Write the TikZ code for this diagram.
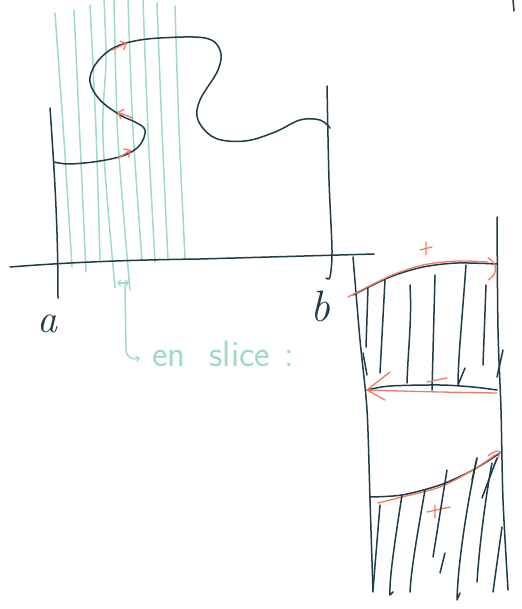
\documentclass[tikz,border=0pt]{standalone}
\usetikzlibrary{arrows.meta}
\definecolor{ink}{HTML}{1F3B47}
\definecolor{tealink}{HTML}{9ED9C9}
\definecolor{redink}{HTML}{F07B63}
\begin{document}
\begin{tikzpicture}[x=1pt,y=-1pt,line cap=round,line join=round,
  inkline/.style={draw=ink,line width=1.5pt},
  tealline/.style={draw=tealink,line width=1.5pt},
  redline/.style={draw=redink,line width=1.3pt},
  chevtip/.style={-{Straight Barb[length=5pt,width=10pt,line width=1.3pt]}},
  smallchev/.style={-{Straight Barb[length=3pt,width=6pt,line width=1.2pt]}},
  dblchev/.style={{Straight Barb[length=3pt,width=6pt,line width=1.2pt]}-{Straight Barb[length=3pt,width=6pt,line width=1.2pt]}},
  handtext/.style={font=\sffamily\fontsize{37}{37}\selectfont,inner sep=0pt},
  labeltext/.style={font=\itshape\fontsize{#1}{#1}\selectfont,text=ink,inner sep=0pt}]
\useasboundingbox (0,0) rectangle (521,609);
% ---------- teal slices ----------
\draw[tealline] plot[smooth] coordinates {(55,13) (64,140) (72,267)};
\draw[tealline] plot[smooth] coordinates {(74,10) (80,140) (86,272)};
\draw[tealline] plot[smooth] coordinates {(90,5) (96,130) (100,260)};
\draw[tealline] plot[smooth] coordinates {(104,0) (106,60) (103,140) (115,288)};
\draw[tealline] plot[smooth] coordinates {(114,0) (118,140) (130,290)};
\draw[tealline] plot[smooth] coordinates {(128,0) (133,130) (142,260)};
\draw[tealline] plot[smooth] coordinates {(143,0) (148,130) (155,262)};
\draw[tealline] plot[smooth] coordinates {(157,3) (162,130) (168,260)};
\draw[tealline] plot[smooth] coordinates {(175,6) (179,130) (185,258)};
% delta x and hook
\draw[tealline,dblchev] (117,283) -- (129,283);
\draw[tealline,smallchev] (125,285) -- (126,350) .. controls (127,358) and (132,360) .. (140,358);
\node[handtext,text=tealink,anchor=base west] (slice) at (152,366) {en\hspace{24pt}slice\hspace{14pt}:};
% ---------- axes ----------
\draw[inkline] (50,108) .. controls (55,180) and (58,230) .. (58,298);
\draw[inkline] (10,267) .. controls (60,263) and (120,260) .. (200,259) -- (374,254);
\draw[inkline] plot[smooth] coordinates {(327,86) (329,180) (332,250) (330,277) (326,278)};
\node[labeltext=40] (a) at (47,324) {a};
\node[labeltext=44] (b) at (320,306) {b};
\draw[inkline] (513,0) -- (514,11);
% ---------- curve ----------
\draw[inkline] plot[smooth,tension=0.6] coordinates {
  (54,162) (70,164) (100,161) (125,155) (140,145) (145,130) (135,122) (120,115)
  (100,100) (90,82) (95,65) (110,50) (130,42) (160,38) (205,38) (220,50)
  (218,70) (200,100) (198,120) (215,138) (245,141) (275,132) (300,120) (320,120) (330,128)};
% red orientation arrows
\draw[redline,chevtip] (112,50) -- (127,43);
\draw[redline,chevtip] (133,118) -- (117,112);
\draw[redline,chevtip] (118,158) -- (131,150);
% ---------- right panel: walls ----------
\draw[inkline] plot[smooth] coordinates {(353,257) (360,340) (367,410) (370,500) (373,592)};
\draw[inkline] plot[smooth] coordinates {(497,217) (498,330) (501,410) (503,500) (508,590)};
\draw[inkline] (502,527) -- (493,592);
\draw[inkline] (503,350) -- (497,377);
\draw[inkline] (363,353) -- (367,375);
% top band
\draw[inkline] plot[smooth] coordinates {(353,295) (390,277) (423,267) (457,263) (497,264)};
\draw[redline] plot[smooth] coordinates {(348,297) (390,276) (423,265) (457,261) (488,262)};
\draw[redline] (488,258) .. controls (498,263) and (498,275) .. (488,280);
\draw[redline] (420,250) -- (432,247) (426,242) -- (426,255);
\draw[inkline] (368,288) -- (366,347);
\draw[inkline] (385,280) -- (380,373);
\draw[inkline] (410,285) .. controls (412,320) and (408,350) .. (407,383);
\draw[inkline] (435,275) -- (432,390);
\draw[inkline] (466,265) .. controls (462,320) and (458,360) .. (458,385) -- (465,368);
\draw[inkline] (486,285) -- (483,365);
% middle line with minus
\draw[inkline] plot[smooth] coordinates {(367,390) (390,386) (440,385) (473,387) (497,390)};
\draw[redline] plot[smooth] coordinates {(497,393) (440,392) (400,391) (367,390)};
\draw[redline] (390,372) -- (367,390) -- (385,400);
\draw[redline] (427,382) -- (447,378);
% bottom band
\draw[inkline] plot[smooth] coordinates {(370,497) (402,495) (440,485) (473,470) (500,453)};
\draw[redline] plot[smooth] coordinates {(378,503) (402,497) (440,487) (473,470) (495,455)};
\draw[redline] (488,456) .. controls (492,452) and (498,450) .. (500,452) .. controls (498,458) and (496,462) .. (494,465);
\draw[redline] (427,512) -- (450,507) (435,505) -- (435,518);
\draw[inkline] (380,505) -- (373,590);
\draw[inkline] (402,495) .. controls (395,540) and (389,580) .. (390,595) -- (393,592);
\draw[inkline] (425,490) .. controls (418,530) and (411,570) .. (410,592);
\draw[inkline] (447,470) -- (433,557);
\draw[inkline] (445,553) -- (440,573);
\draw[inkline] (477,458) .. controls (468,500) and (458,560) .. (457,600) -- (460,593);
\draw[inkline] (472,480) -- (477,458);
\draw[inkline] (492,463) .. controls (485,500) and (479,550) .. (477,582);
\draw[inkline] (497,458) -- (482,498);
\end{tikzpicture}
\end{document}
